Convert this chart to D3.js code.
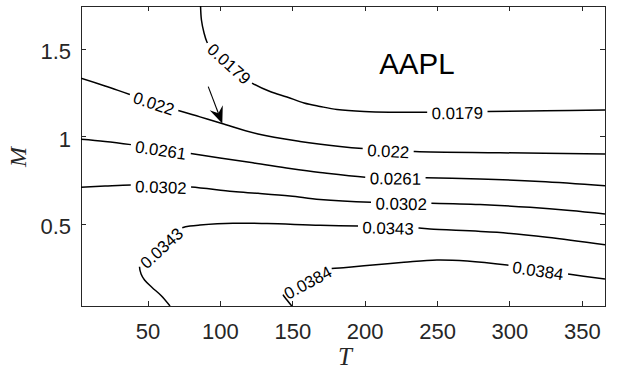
<!DOCTYPE html>
<html>
<head>
<meta charset="utf-8">
<script src="https://cdn.jsdelivr.net/npm/d3@7"></script>
<style>
  html, body { margin: 0; padding: 0; background: #fff; }
  svg { display: block; }
</style>
</head>
<body>
<svg id="chart"></svg>
<script>
// contour levels and their traced lines, as [T, M] pairs
const levels = ["0.0179", "0.022", "0.0261", "0.0302", "0.0343", "0.0384"];

const line0179 = [[86.6,1.745],[87.2,1.665],[89.0,1.591],[91.0,1.539],[94.5,1.494],[100.0,1.451],[106.9,1.402],
  [114.5,1.351],[122.1,1.305],[134.6,1.256],[146.3,1.225],[158.1,1.191],[169.1,1.171],[180.9,1.153],
  [199.5,1.142],[241.0,1.137],[283.1,1.142],[324.6,1.146],[366,1.151]];
const line022 = [[4,1.332],[20.6,1.288],[37.9,1.239],[71.0,1.148],[86.2,1.111],[101.4,1.073],[126.3,1.013],
  [155.3,0.971],[182.9,0.942],[201.6,0.928],[234.7,0.913],[293.5,0.906],[366,0.899]];
const line0261 = [[4,0.983],[20.6,0.971],[39.9,0.951],[79.3,0.903],[100.0,0.876],[123.5,0.848],[148.4,0.816],
  [169.1,0.793],[201.6,0.766],[242.3,0.763],[279.6,0.756],[321.1,0.742],[366,0.718]];
const line0302 = [[4,0.709],[20.6,0.716],[38.5,0.722],[59.3,0.717],[80.0,0.710],[109.0,0.684],[126.3,0.674],
  [148.4,0.659],[169.1,0.639],[204.3,0.623],[245.1,0.618],[279.6,0.610],[314.2,0.594],[341.8,0.576],[366,0.556]];
const line0343 = [[65.5,0.03],[59.3,0.090],[53.1,0.136],[47.9,0.179],[45.5,0.213],[44.4,0.259],[45.5,0.299],
  [48.9,0.339],[53.1,0.367],[58.6,0.402],[65.5,0.442],[72.4,0.473],[79.3,0.487],[86.2,0.493],[109.0,0.503],
  [132.5,0.501],[169.1,0.491],[197.4,0.487],[237.5,0.476],[245.1,0.470],[291.4,0.451],[325.9,0.423],[366,0.380]];
const line0384 = [[149.6,0.03],[146.3,0.064],[143.5,0.096],[142.9,0.121],[144.2,0.144],[148.4,0.162],
  [157.4,0.190],[166.3,0.222],[175.3,0.242],[187.1,0.250],[199.5,0.260],[227.1,0.280],[249.9,0.293],
  [270.7,0.287],[298.3,0.264],[319.7,0.239],[340.4,0.213],[366,0.184]];
const contourLines = [line0179, line022, line0261, line0302, line0343, line0384];

// where the inline labels sit on each line
const labelSpots = [
  [[105.6,1.408],[264.1,1.140]],
  [[54.4,1.190],[216.3,0.920]],
  [[59.3,0.925],[221.3,0.766]],
  [[59.3,0.717],[225.1,0.620]],
  [[56.5,0.384],[216.1,0.482]],
  [[157.6,0.184],[319.7,0.239]]
];

const xTicks = [50, 100, 150, 200, 250, 300, 350];
const yTicks = [0.5, 1, 1.5];
const tickColor = "#262626";

const tagText = "AAPL";
const tagPos = [210, 1.356];
const arrowFrom = [91.9, 1.284];
const arrowTo = [101.6, 1.073];

const width = 625, height = 375;
const margin = { top: 6, right: 20, bottom: 69, left: 81 };

const svg = d3.select("#chart").attr("width", width).attr("height", height);

const x = d3.scaleLinear().domain([4, 366]).range([margin.left, width - margin.right]);
const y = d3.scaleLinear().domain([0.03, 1.745]).range([height - margin.bottom, margin.top]);

svg.append("defs").append("clipPath").attr("id", "plot-clip")
  .append("rect")
  .attr("x", x.range()[0]).attr("y", y.range()[1])
  .attr("width", x.range()[1] - x.range()[0])
  .attr("height", y.range()[0] - y.range()[1]);

// axes, ticks pointing inward on all four sides
const fontSans = "'Liberation Sans', Arial, Helvetica, sans-serif";

const xAxis = svg.append("g")
  .attr("transform", `translate(0, ${y.range()[0]})`)
  .call(d3.axisBottom(x).tickValues(xTicks).tickSizeInner(-5).tickSizeOuter(0).tickPadding(17.3));
const yAxis = svg.append("g")
  .attr("transform", `translate(${x.range()[0]}, 0)`)
  .call(d3.axisLeft(y).tickValues(yTicks).tickSizeInner(-5).tickSizeOuter(0).tickPadding(10).tickFormat(d => String(d)));
const xTop = svg.append("g")
  .attr("transform", `translate(0, ${y.range()[1]})`)
  .call(d3.axisTop(x).tickValues(xTicks).tickSizeInner(-5).tickSizeOuter(0).tickFormat(""));
const yRight = svg.append("g")
  .attr("transform", `translate(${x.range()[1]}, 0)`)
  .call(d3.axisRight(y).tickValues(yTicks).tickSizeInner(-5).tickSizeOuter(0).tickFormat(""));

[xAxis, yAxis, xTop, yRight].forEach(g => {
  g.select(".domain").remove();
  g.selectAll(".tick line").attr("stroke", tickColor).attr("shape-rendering", "crispEdges");
  g.selectAll(".tick text")
    .attr("font-family", fontSans)
    .attr("font-size", 22)
    .attr("fill", tickColor);
});
yAxis.selectAll(".tick text").attr("dy", "0.45em");

svg.append("rect")
  .attr("x", x.range()[0]).attr("y", y.range()[1])
  .attr("width", x.range()[1] - x.range()[0])
  .attr("height", y.range()[0] - y.range()[1])
  .attr("fill", "none")
  .attr("stroke", tickColor)
  .attr("stroke-width", 1)
  .attr("shape-rendering", "crispEdges");

// axis titles
svg.append("text")
  .attr("x", (x.range()[0] + x.range()[1]) / 2 + 2)
  .attr("y", 365)
  .attr("text-anchor", "middle")
  .attr("font-family", "'Liberation Serif', 'Times New Roman', serif")
  .attr("font-style", "italic")
  .attr("font-size", 25)
  .attr("fill", tickColor)
  .text("T");

svg.append("text")
  .attr("transform", `translate(26, ${(y.range()[0] + y.range()[1]) / 2 + 1}) rotate(-90)`)
  .attr("text-anchor", "middle")
  .attr("font-family", "'Liberation Serif', 'Times New Roman', serif")
  .attr("font-style", "italic")
  .attr("font-size", 24)
  .attr("fill", tickColor)
  .text("M");

// contour lines with inline labels cut into them
const plot = svg.append("g").attr("clip-path", "url(#plot-clip)");
const lineGen = d3.line()
  .x(d => x(d[0]))
  .y(d => y(d[1]))
  .curve(d3.curveCatmullRom.alpha(0.5));

const pad = 4.5;

contourLines.forEach((pts, i) => {
  const path = plot.append("path")
    .attr("d", lineGen(pts))
    .attr("fill", "none")
    .attr("stroke", "#000")
    .attr("stroke-width", 1.5);
  const node = path.node();
  const total = node.getTotalLength();

  const gaps = [];
  labelSpots[i].forEach(spot => {
    const sx = x(spot[0]), sy = y(spot[1]);
    let best = 0, bestD = Infinity;
    for (let s = 0; s <= total; s += 0.5) {
      const p = node.getPointAtLength(s);
      const dd = (p.x - sx) ** 2 + (p.y - sy) ** 2;
      if (dd < bestD) { bestD = dd; best = s; }
    }
    const txt = plot.append("text")
      .attr("font-family", fontSans)
      .attr("font-size", 16.8)
      .attr("fill", "#000")
      .attr("text-anchor", "middle")
      .attr("dy", "0.42em")
      .text(levels[i]);
    const half = txt.node().getComputedTextLength() / 2 + pad;
    const s0 = Math.max(0, best - half), s1 = Math.min(total, best + half);
    const a = node.getPointAtLength(s0);
    const b = node.getPointAtLength(s1);
    const ang = Math.atan2(b.y - a.y, b.x - a.x) * 180 / Math.PI;
    txt.attr("transform", `translate(${(a.x + b.x) / 2}, ${(a.y + b.y) / 2}) rotate(${ang})`);
    gaps.push([s0, s1]);
  });

  gaps.sort((p, q) => p[0] - q[0]);
  const dash = [];
  let pos = 0;
  gaps.forEach(g => {
    dash.push(g[0] - pos, g[1] - g[0]);
    pos = g[1];
  });
  dash.push(total - pos + 1, 0);
  path.attr("stroke-dasharray", dash.join(" "));
});

// annotation
svg.append("text")
  .attr("x", x(tagPos[0]))
  .attr("y", y(tagPos[1]))
  .attr("font-family", fontSans)
  .attr("font-size", 29.5)
  .attr("fill", "#000")
  .text(tagText);

const ax0 = x(arrowFrom[0]), ay0 = y(arrowFrom[1]);
const ax1 = x(arrowTo[0]), ay1 = y(arrowTo[1]);
const len = Math.hypot(ax1 - ax0, ay1 - ay0);
const ux = (ax1 - ax0) / len, uy = (ay1 - ay0) / len;
const headLen = 17, headHalf = 7, notch = 11;
svg.append("line")
  .attr("x1", ax0).attr("y1", ay0)
  .attr("x2", ax1 - ux * notch).attr("y2", ay1 - uy * notch)
  .attr("stroke", "#000")
  .attr("stroke-width", 1.1);
const head = [
  [ax1, ay1],
  [ax1 - ux * headLen - uy * headHalf, ay1 - uy * headLen + ux * headHalf],
  [ax1 - ux * notch, ay1 - uy * notch],
  [ax1 - ux * headLen + uy * headHalf, ay1 - uy * headLen - ux * headHalf]
];
svg.append("path")
  .attr("d", "M" + head.map(p => p.join(",")).join("L") + "Z")
  .attr("fill", "#000");
</script>
</body>
</html>
